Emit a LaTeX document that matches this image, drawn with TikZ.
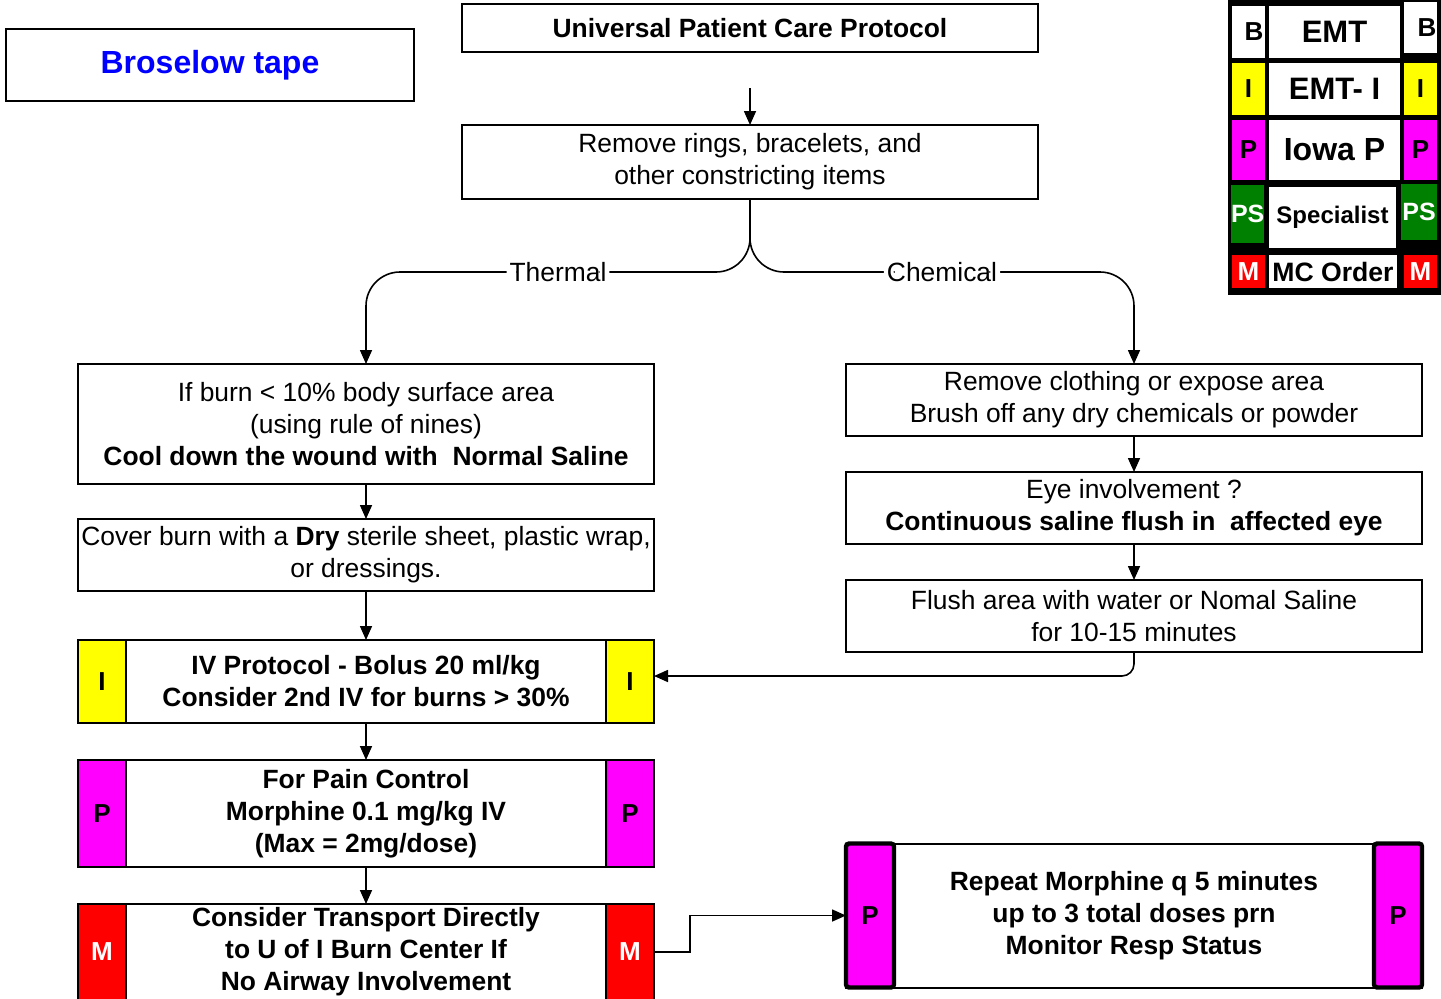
\documentclass[tikz,border=0pt]{standalone}
\usepackage{fontspec}
\setmainfont{Liberation Sans}
\usetikzlibrary{arrows.meta,calc,positioning}
\definecolor{ivyellow}{RGB}{255,255,0}
\definecolor{pmagenta}{RGB}{255,0,255}
\definecolor{mred}{RGB}{255,0,0}
\definecolor{psgreen}{RGB}{0,128,0}
\definecolor{tapeblue}{RGB}{0,0,255}
\begin{document}
\begin{tikzpicture}[x=0.5pt,y=-0.5pt,
  every node/.style={inner sep=0pt,outer sep=0pt},
  box/.style={draw,line width=1pt,fill=white,align=center,
    font=\fontsize{13.2}{16}\selectfont,minimum width=288pt},
  cbox/.style={box,minimum height=36pt},
  side/.style={draw,line width=1pt,minimum width=24pt,
    font=\fontsize{13}{16}\selectfont\bfseries},
  sidethick/.style={side,line width=2.2pt,rounded corners=1.5pt},
  arr/.style={draw,line width=0.8pt,-{Triangle[length=7pt,width=6pt]}},
  lbl/.style={fill=white,inner xsep=1.5pt,font=\fontsize{13.2}{16}\selectfont},
  cell/.style={minimum width=16.5pt,font=\fontsize{13}{16}\selectfont\bfseries},
  mcell/.style={fill=white,minimum width=65.5pt,font=\bfseries}]
\useasboundingbox (0,0) rectangle (1441,998);
\clip (0,0) rectangle (1441,998);
\fill[white] (0,0) rectangle (1441,998);

% title boxes
\node[box,minimum width=204pt,minimum height=36pt,
  font=\fontsize{16}{19}\selectfont\bfseries,text=tapeblue] (tape) at (210,65) {Broselow tape};
\node[box,minimum height=24pt,font=\fontsize{13.2}{16}\selectfont\bfseries] (upc) at (750,28) {Universal Patient Care Protocol};
\coordinate (upcarrow) at (750,88);
\node[box,minimum height=37pt] (rings) at (750,162) {Remove rings, bracelets, and\\other constricting items};

% thermal branch
\node[box,minimum height=60pt] (burn) at (366,424)
  {If burn < 10\% body surface area\\(using rule of nines)\\\textbf{Cool down the wound with\ \ Normal Saline}};
\node[box,minimum height=36pt] (cover) at (366,555)
  {Cover burn with a \textbf{Dry} sterile sheet, plastic wrap,\\or dressings.};
\node[box,minimum height=41.5pt,font=\fontsize{13.2}{16}\selectfont\bfseries] (iv) at (366,681.5)
  {IV Protocol - Bolus 20 ml/kg\\Consider 2nd IV for burns > 30\%};
\node[side,fill=ivyellow,anchor=north west,minimum height=41.5pt] (ivL) at (iv.north west) {I};
\node[side,fill=ivyellow,anchor=north east,minimum height=41.5pt] (ivR) at (iv.north east) {I};
\node[box,minimum height=53.5pt,font=\fontsize{13.2}{16}\selectfont\bfseries] (pain) at (366,813.5)
  {For Pain Control\\Morphine 0.1 mg/kg IV\\(Max = 2mg/dose)};
\node[side,fill=pmagenta,anchor=north west,minimum height=53.5pt] (painL) at (pain.north west) {P};
\node[side,fill=pmagenta,anchor=north east,minimum height=53.5pt] (painR) at (pain.north east) {P};
\node[box,minimum height=48pt,font=\fontsize{13.2}{16}\selectfont\bfseries] (trans) at (366,952)
  {Consider Transport Directly\\to U of I Burn Center If\\No Airway Involvement};
\node[side,fill=mred,text=white,anchor=north west,minimum height=48pt] (transL) at (trans.north west) {M};
\node[side,fill=mred,text=white,anchor=north east,minimum height=48pt] (transR) at (trans.north east) {M};

% chemical branch
\node[cbox] (chem1) at (1134,400)
  {Remove clothing or expose area\\Brush off any dry chemicals or powder};
\node[cbox] (chem2) at (1134,508)
  {Eye involvement ?\\\textbf{Continuous saline flush in\ \ affected eye}};
\node[cbox] (chem3) at (1134,616)
  {Flush area with water or Nomal Saline\\for 10-15 minutes};

% repeat dose box
\node[box,minimum height=72pt,font=\fontsize{13.2}{16}\selectfont\bfseries] (rep) at (1134,915.5)
  {Repeat Morphine q 5 minutes\\up to 3 total doses prn\\Monitor Resp Status};
\node[sidethick,fill=pmagenta,anchor=north west,minimum height=72pt] (repL) at (rep.north west) {P};
\node[sidethick,fill=pmagenta,anchor=north east,minimum height=72pt] (repR) at (rep.north east) {P};

% connectors
\draw[arr] (upcarrow) -- (rings.north);
\draw[arr,rounded corners=17pt] (rings.south) |- node[lbl,pos=0.75]{Thermal}
  ($(burn.north)+(0,-92)$) -- (burn.north);
\draw[arr,rounded corners=17pt] (rings.south) |- node[lbl,pos=0.75]{Chemical}
  ($(chem1.north)+(0,-92)$) -- (chem1.north);
\draw[arr] (burn) -- (cover);
\draw[arr] (cover) -- (iv);
\draw[arr] (iv) -- (pain);
\draw[arr] (pain) -- (trans);
\draw[arr] (chem1) -- (chem2);
\draw[arr] (chem2) -- (chem3);
\draw[arr,rounded corners=6pt] (chem3.south) |- ($(ivR.east)+(0,-5.5)$);
\draw[arr] (transR.east) -- ++(36,0) |- (repL.west);

% certification level legend
\fill[black] (1228,0) rectangle (1441,295);
\node[cell,fill=white,anchor=north west,minimum height=26pt,text width=15pt,align=right] (lgB1) at (1232,6) {B};
\node[mcell,anchor=north west,minimum height=26pt,font=\fontsize{15.5}{18}\selectfont\bfseries] (lgEMT) at (1269,6) {EMT};
\node[cell,fill=white,anchor=north west,minimum height=25.5pt,text width=16pt,align=right] (lgB2) at (1404,2) {B};
\node[cell,fill=ivyellow,anchor=north west,minimum height=26pt] (lgI1) at (1232,63) {I};
\node[mcell,anchor=north west,minimum height=26pt,font=\fontsize{15.5}{18}\selectfont\bfseries] (lgEMTI) at (1269,63) {EMT- I};
\node[cell,fill=ivyellow,anchor=north west,minimum height=26pt] (lgI2) at (1404,63) {I};
\node[cell,fill=pmagenta,anchor=north west,minimum height=30pt] (lgP1) at (1232,120) {P};
\node[mcell,anchor=north west,minimum height=30pt,font=\fontsize{16}{19}\selectfont\bfseries] (lgIowa) at (1269,120) {Iowa P};
\node[cell,fill=pmagenta,anchor=north west,minimum height=30pt] (lgP2) at (1404,120) {P};
\node[cell,fill=psgreen,text=white,anchor=north west,minimum height=29pt,font=\fontsize{12.5}{15}\selectfont\bfseries] (lgPS1) at (1231,185) {PS};
\node[mcell,anchor=north west,minimum height=30.5pt,minimum width=63.5pt,font=\fontsize{12}{15}\selectfont\bfseries] (lgSpec) at (1269,187) {Specialist};
\node[cell,fill=psgreen,text=white,anchor=north west,minimum height=28pt,minimum width=18pt,font=\fontsize{12.5}{15}\selectfont\bfseries] (lgPS2) at (1401,184) {PS};
\node[cell,fill=mred,text=white,anchor=north west,minimum height=16.5pt] (lgM1) at (1232,255) {M};
\node[mcell,anchor=north west,minimum height=16.5pt,minimum width=64pt,font=\fontsize{13.3}{16}\selectfont\bfseries] (lgMC) at (1269,255) {MC Order};
\node[cell,fill=mred,text=white,anchor=north west,minimum height=16.5pt] (lgM2) at (1404,255) {M};
\end{tikzpicture}
\end{document}
